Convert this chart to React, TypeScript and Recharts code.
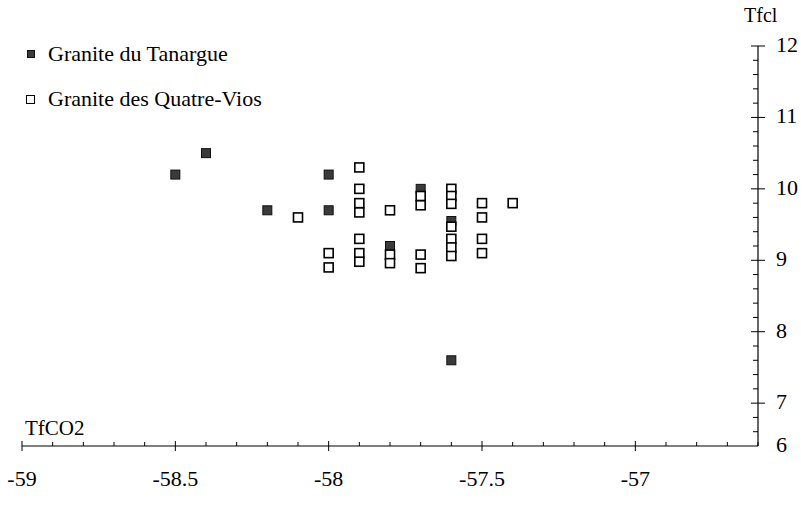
import React from 'react';
import { ScatterChart, Scatter, XAxis, YAxis } from 'recharts';

// Granite du Tanargue (filled squares)
const tanargueX = [-58.5, -58.4, -58.2, -58.0, -58.0, -57.8, -57.7, -57.6, -57.6];
const tanargueY = [10.2, 10.5, 9.7, 10.2, 9.7, 9.2, 10.0, 9.55, 7.6];

// Granite des Quatre-Vios (open squares)
const quatreViosX = [
  -58.1, -58.0, -58.0,
  -57.9, -57.9, -57.9, -57.9, -57.9, -57.9, -57.9,
  -57.8, -57.8, -57.8,
  -57.7, -57.7, -57.7, -57.7,
  -57.6, -57.6, -57.6, -57.6, -57.6, -57.6, -57.6,
  -57.5, -57.5, -57.5, -57.5,
  -57.4,
];
const quatreViosY = [
  9.6, 9.1, 8.9,
  10.3, 10.0, 9.8, 9.67, 9.3, 9.1, 8.98,
  9.7, 9.08, 8.96,
  9.9, 9.77, 9.08, 8.89,
  10.0, 9.9, 9.79, 9.47, 9.3, 9.18, 9.06,
  9.8, 9.6, 9.3, 9.1,
  9.8,
];

const seriesNames = ['Granite du Tanargue', 'Granite des Quatre-Vios'];
const xAxisTitle = 'TfCO2';
const yAxisTitle = 'Tfcl';

const xDomain = [-59, -56.6];
const xMajorTicks = [-59, -58.5, -58, -57.5, -57];
const xMajorLabels = ['-59', '-58.5', '-58', '-57.5', '-57'];
const xMinorTicks = [
  -58.9, -58.8, -58.7, -58.6, -58.4, -58.3, -58.2, -58.1,
  -57.9, -57.8, -57.7, -57.6, -57.4, -57.3, -57.2, -57.1,
  -56.9, -56.8, -56.7, -56.6,
];

const yDomain = [6.4, 12];
const yMajorTicks = [6.4, 7, 8, 9, 10, 11, 12];
const yMajorLabels = ['6', '7', '8', '9', '10', '11', '12'];
const yMinorTicks = [
  6.6, 6.8, 7.2, 7.4, 7.6, 7.8, 8.2, 8.4, 8.6, 8.8, 9.2, 9.4, 9.6, 9.8,
  10.2, 10.4, 10.6, 10.8, 11.2, 11.4, 11.6, 11.8,
];

const tanargueData = tanargueX.map((x, i) => ({ x, y: tanargueY[i] }));
const quatreViosData = quatreViosX.map((x, i) => ({ x, y: quatreViosY[i] }));

const FONT = "'Liberation Serif', 'DejaVu Serif', Tinos, 'Times New Roman', Times, serif";

const near = (a: number, b: number) => Math.abs(a - b) < 1e-6;

const XTick = (props: any) => {
  const { x, y, payload } = props;
  const v = payload.value;
  const idx = xMajorTicks.findIndex((t) => near(t, v));
  const major = idx >= 0;
  return (
    <g>
      <line x1={x} x2={x} y1={y - (major ? 5 : 4)} y2={y + (major ? 5 : 0)} stroke="#000" strokeWidth={1} />
      {major && (
        <text x={x} y={y + 40} textAnchor="middle" style={{ fontFamily: FONT, fontSize: 22 }} fill="#000">
          {xMajorLabels[idx]}
        </text>
      )}
    </g>
  );
};

const YTick = (props: any) => {
  const { x, y, payload } = props;
  const v = payload.value;
  const idx = yMajorTicks.findIndex((t) => near(t, v));
  const major = idx >= 0;
  const isBottom = near(v, yDomain[0]);
  return (
    <g>
      {major && !isBottom && (
        <line x1={x - 7} x2={x + 7} y1={y} y2={y} stroke="#000" strokeWidth={1} />
      )}
      {!major && <line x1={x - 5} x2={x} y1={y} y2={y} stroke="#000" strokeWidth={1} />}
      {major && (
        <text x={x + 18} y={y + 6} textAnchor="start" style={{ fontFamily: FONT, fontSize: 22 }} fill="#000">
          {yMajorLabels[idx]}
        </text>
      )}
    </g>
  );
};

const FilledSquare = (props: any) => {
  const { cx, cy } = props;
  return (
    <rect x={cx - 4.5} y={cy - 4.5} width={9} height={9} fill="#3a3a3a" stroke="#111" strokeWidth={1} />
  );
};

const OpenSquare = (props: any) => {
  const { cx, cy } = props;
  return (
    <rect x={cx - 4.5} y={cy - 4.5} width={9} height={9} fill="#fff" stroke="#000" strokeWidth={1.6} />
  );
};

const textStyle: React.CSSProperties = {
  position: 'absolute',
  fontFamily: FONT,
  fontSize: 22,
  color: '#000',
  lineHeight: '22px',
  whiteSpace: 'nowrap',
};

export default function App() {
  const xTicks = [...xMajorTicks, ...xMinorTicks].sort((a, b) => a - b);
  const yTicks = [...yMajorTicks, ...yMinorTicks].sort((a, b) => a - b);
  return (
    <div style={{ position: 'absolute', left: 0, top: 0, width: 801, height: 522, background: '#fff', fontFamily: FONT }}>
      <ScatterChart width={801} height={522} margin={{ top: 46, left: 22, right: 0, bottom: 16 }} style={{ fontFamily: FONT }}>
        <XAxis
          type="number"
          dataKey="x"
          domain={xDomain}
          allowDataOverflow
          ticks={xTicks}
          interval={0}
          tickSize={0}
          tickMargin={0}
          tickLine={false}
          axisLine={{ stroke: '#000', strokeWidth: 1.2 }}
          tick={(p: any) => <XTick {...p} />}
          height={60}
        />
        <YAxis
          type="number"
          dataKey="y"
          orientation="right"
          domain={yDomain}
          allowDataOverflow
          ticks={yTicks}
          interval={0}
          tickSize={0}
          tickMargin={0}
          tickLine={false}
          axisLine={{ stroke: '#000', strokeWidth: 1.2 }}
          tick={(p: any) => <YTick {...p} />}
          width={43}
        />
        <Scatter name={seriesNames[0]} data={tanargueData} shape={(p: any) => <FilledSquare {...p} />} isAnimationActive={false} />
        <Scatter name={seriesNames[1]} data={quatreViosData} shape={(p: any) => <OpenSquare {...p} />} isAnimationActive={false} />
      </ScatterChart>

      {/* legend */}
      <div style={{ position: 'absolute', left: 27, top: 50, width: 8, height: 8, background: '#3a3a3a', border: '1px solid #111', boxSizing: 'border-box' }} />
      <div style={{ ...textStyle, left: 48, top: 43 }}>{seriesNames[0]}</div>
      <div style={{ position: 'absolute', left: 26, top: 95, width: 9, height: 9, background: '#fff', border: '1px solid #000', boxSizing: 'border-box' }} />
      <div style={{ ...textStyle, left: 48, top: 88 }}>{seriesNames[1]}</div>

      {/* axis titles */}
      <div style={{ ...textStyle, left: 744, top: 4, fontSize: 20 }}>{yAxisTitle}</div>
      <div style={{ ...textStyle, left: 25, top: 417, fontSize: 21 }}>{xAxisTitle}</div>
    </div>
  );
}
